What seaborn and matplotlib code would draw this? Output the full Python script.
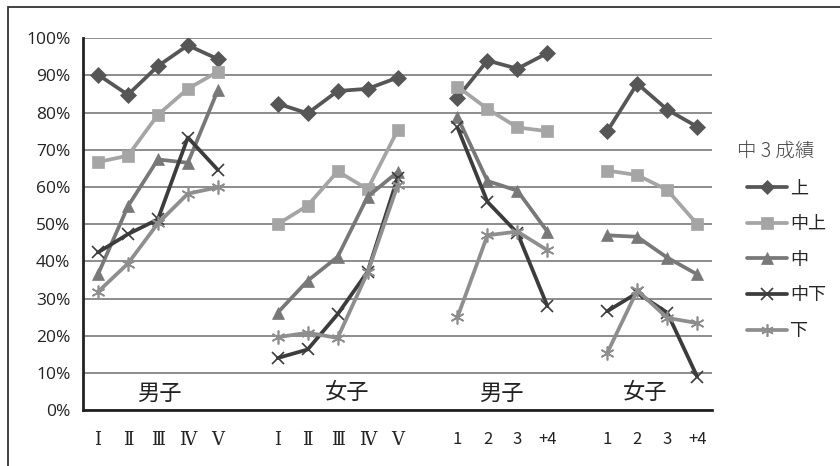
import matplotlib
matplotlib.use("Agg")
import matplotlib.pyplot as plt
from matplotlib.lines import Line2D
from matplotlib.patches import Rectangle
import pandas as pd
import seaborn as sns

# カテゴリ（空文字はグループ間の空白）
x_labels = ["Ⅰ", "Ⅱ", "Ⅲ", "Ⅳ", "Ⅴ", "",
            "Ⅰ", "Ⅱ", "Ⅲ", "Ⅳ", "Ⅴ", "",
            "1", "2", "3", "+4", "",
            "1", "2", "3", "+4"]
group_names = ["男子", "女子", "男子", "女子"]
group_starts = [0, 6, 12, 17]
series = ["上", "中上", "中", "中下", "下"]

# 各グループの値 (%)
g1 = {"上":   [90.2, 84.8, 92.5, 98.1, 94.4],
      "中上": [66.7, 68.4, 79.4, 86.4, 91.0],
      "中":   [36.5, 54.8, 67.4, 66.5, 86.0],
      "中下": [42.4, 47.3, 51.3, 73.3, 64.6],
      "下":   [31.8, 39.4, 50.2, 58.2, 59.9]}
g2 = {"上":   [82.4, 79.8, 85.8, 86.4, 89.4],
      "中上": [50.0, 55.0, 64.2, 59.4, 75.2],
      "中":   [26.2, 34.8, 41.2, 57.4, 64.0],
      "中下": [14.0, 16.3, 25.8, 37.2, 62.4],
      "下":   [19.6, 20.8, 19.4, 37.0, 60.4]}
g3 = {"上":   [84.0, 94.0, 91.8, 96.0],
      "中上": [87.0, 81.0, 76.0, 75.0],
      "中":   [78.8, 61.6, 59.0, 48.0],
      "中下": [76.0, 56.0, 47.6, 28.0],
      "下":   [25.0, 47.0, 48.0, 43.0]}
g4 = {"上":   [75.0, 87.8, 80.8, 76.2],
      "中上": [64.4, 63.2, 59.2, 50.0],
      "中":   [47.0, 46.6, 41.0, 36.5],
      "中下": [26.6, 31.5, 26.2, 9.0],
      "下":   [15.4, 32.2, 24.8, 23.4]}
groups = [g1, g2, g3, g4]

colors = {"上": "#565656", "中上": "#a5a5a5", "中": "#787878",
          "中下": "#3c3c3c", "下": "#8e8e8e"}
markers = {"上": "D", "中上": "s", "中": "^", "中下": "x", "下": (6, 2, 0)}
msizes = {"上": 8, "中上": 9, "中": 9, "中下": 9, "下": 10}

rows = []
for gi, (start, g) in enumerate(zip(group_starts, groups)):
    for s in series:
        for k, v in enumerate(g[s]):
            rows.append({"pos": start + k, "val": v, "series": s, "group": gi})
df = pd.DataFrame(rows)

sns.set_style("white")
plt.rcParams["font.family"] = ["Noto Sans CJK JP", "DejaVu Sans"]

fig = plt.figure(figsize=(8.4, 4.66), dpi=100)
ax = fig.add_axes([0.0988, 0.12, 0.749, 0.798])

for s in series:
    sub = df[df["series"] == s]
    for gi in range(4):
        part = sub[sub["group"] == gi]
        sns.lineplot(data=part, x="pos", y="val", ax=ax, color=colors[s],
                     linewidth=2.7, marker=markers[s], markersize=msizes[s],
                     markeredgecolor=colors[s], markerfacecolor=colors[s],
                     markeredgewidth=1.2 if s in ("中下", "下") else 0.5,
                     legend=False, zorder=3)

ax.set_xlim(-0.5, len(x_labels) - 0.5)
ax.set_ylim(0, 100)
ax.set_yticks(range(0, 101, 10))
ax.set_yticklabels([f"{t}%" for t in range(0, 101, 10)], fontsize=12.5,
                   family=["Open Sans", "DejaVu Sans"], color="#222222")
ax.yaxis.grid(True, color="#6e6e6e", linewidth=1.1)
ax.set_axisbelow(True)

ax.set_xticks(range(len(x_labels)))
ax.set_xticklabels(x_labels, fontsize=12)
for lab in ax.get_xticklabels():
    if lab.get_text().startswith(("Ⅰ", "Ⅱ", "Ⅲ", "Ⅳ", "Ⅴ")):
        lab.set_family(["DejaVu Serif", "Noto Sans CJK JP"])
        lab.set_fontsize(13)
ax.set_xticks([i - 0.5 for i in range(len(x_labels) + 1)], minor=True)
ax.tick_params(axis="x", which="major", length=0, pad=15, colors="#222222")
ax.tick_params(axis="x", which="minor", length=5, width=1.2, color="#222222")
ax.tick_params(axis="y", length=5, width=1.2, color="#222222", pad=4)
ax.set_xlabel("")
ax.set_ylabel("")

for sp in ("top", "right"):
    ax.spines[sp].set_visible(False)
for sp in ("left", "bottom"):
    ax.spines[sp].set_color("#222222")
    ax.spines[sp].set_linewidth(2)

label_pos = [2.05, 8.3, 13.45, 18.25]
for name, xp in zip(group_names, label_pos):
    ax.text(xp, 4.6, name, fontsize=16, ha="center", va="center",
            color="#222222")

handles = [Line2D([0], [0], color=colors[s], linewidth=2.7, marker=markers[s],
                  markersize=msizes[s] - 1, markerfacecolor=colors[s],
                  markeredgecolor=colors[s],
                  markeredgewidth=1.2 if s in ("中下", "下") else 0.5)
           for s in series]
leg = fig.legend(handles, series, loc="upper left",
                 bbox_to_anchor=(0.879, 0.7176), frameon=False, fontsize=13,
                 title="中 3 成績", title_fontsize=14, handlelength=2.2,
                 handletextpad=0.15, labelspacing=0.98, alignment="left",
                 borderpad=0)
leg.get_title().set_color("#444444")
leg.get_title().set_fontweight("light")
leg.get_title().set_x(-10)

fig.patches.append(Rectangle((8 / 840, -0.1), 1.2, 1 - 6.5 / 466 + 0.1,
                             transform=fig.transFigure, fill=False,
                             edgecolor="#333333", linewidth=1.3))

fig.savefig("out.png", dpi=100)
